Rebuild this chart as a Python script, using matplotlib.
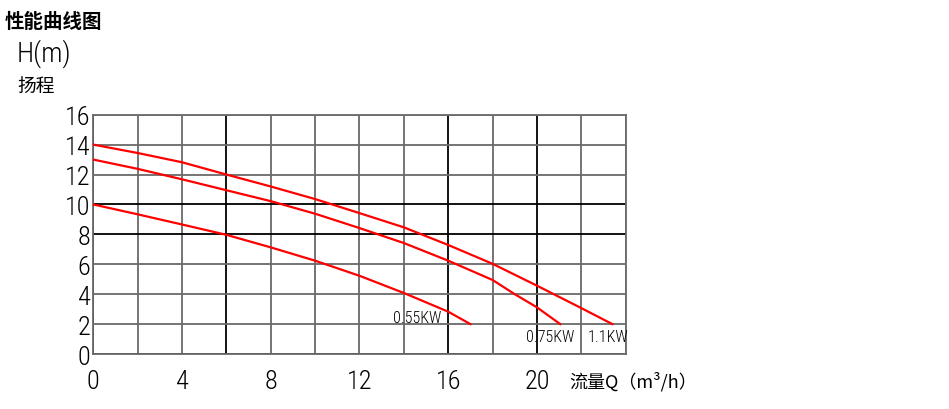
import matplotlib
matplotlib.use('Agg')
import matplotlib.pyplot as plt

# pump curves: flow Q (m3/h) vs head H (m)
q_11 = [0, 2, 4, 6, 8, 10, 12, 14, 16, 18, 20, 22, 23.4]
h_11 = [14, 13.44, 12.82, 12.0, 11.2, 10.36, 9.42, 8.47, 7.29, 6.03, 4.57, 3.07, 2.0]
q_075 = [0, 2, 4, 6, 8, 10, 12, 14, 16, 18, 19, 20, 21.05]
h_075 = [13, 12.38, 11.68, 10.95, 10.22, 9.38, 8.42, 7.42, 6.24, 4.95, 4.0, 3.12, 2.0]
q_055 = [0, 2, 4, 6, 8, 10, 12, 14, 16, 17]
h_055 = [10, 9.34, 8.66, 7.97, 7.13, 6.24, 5.23, 4.08, 2.83, 2.0]

curve_labels = ['0.55KW', '0.75KW', '1.1KW']
label_pos = [(13.5, 2.45), (19.5, 1.2), (22.3, 1.2)]

x_ticks = [0, 4, 8, 12, 16, 20]
y_ticks = [0, 2, 4, 6, 8, 10, 12, 14, 16]
dark_x = [0, 6, 16, 20]
dark_y = [0, 8, 10]

num_font = ['Roboto Condensed', 'Archivo Narrow', 'PT Sans Narrow', 'DejaVu Sans']
cjk_font = ['Noto Sans CJK SC', 'DejaVu Sans']

fig = plt.figure(figsize=(9.49, 4.10), dpi=100)
ax = fig.add_axes([0.0983, 0.1341, 0.5610, 0.5837])

# grid lines, some darker than others like the original
for x in range(0, 25, 2):
    c = 'black' if x in dark_x else '#6a6a6a'
    ax.axvline(x, color=c, lw=1.3, zorder=1)
for y in range(0, 17, 2):
    c = 'black' if y in dark_y else '#6a6a6a'
    ax.axhline(y, color=c, lw=1.3, zorder=1)

for q, h in [(q_11, h_11), (q_075, h_075), (q_055, h_055)]:
    ax.plot(q, h, color='red', lw=1.6, zorder=3)

for txt, (x, y) in zip(curve_labels, label_pos):
    ax.text(x, y, txt, fontsize=11.5, family=num_font, weight='light',
            va='center', ha='left', zorder=4)

ax.set_xlim(0, 24)
ax.set_ylim(0, 16)
ax.set_xticks(x_ticks)
ax.set_yticks(y_ticks)
ax.tick_params(length=0, labelsize=19, pad=2)
ax.tick_params(axis='x', pad=11)
for lab in ax.get_xticklabels() + ax.get_yticklabels():
    lab.set_family(num_font)
    lab.set_weight('light')
for s in ax.spines.values():
    s.set_color('#6a6a6a')
    s.set_linewidth(1.3)

fig.text(0.005, 0.945, '性能曲线图', fontsize=14, weight='bold', family=cjk_font, va='center')
fig.text(0.017, 0.868, 'H(m)', fontsize=20, family=num_font, weight='light', va='center')
fig.text(0.018, 0.79, '扬程', fontsize=13.5, family=cjk_font, weight='light', va='center')
fig.text(0.600, 0.07, '流量Q（m³/h）', fontsize=13, family=cjk_font, weight='light', va='center')

fig.savefig('out.png', dpi=100)
